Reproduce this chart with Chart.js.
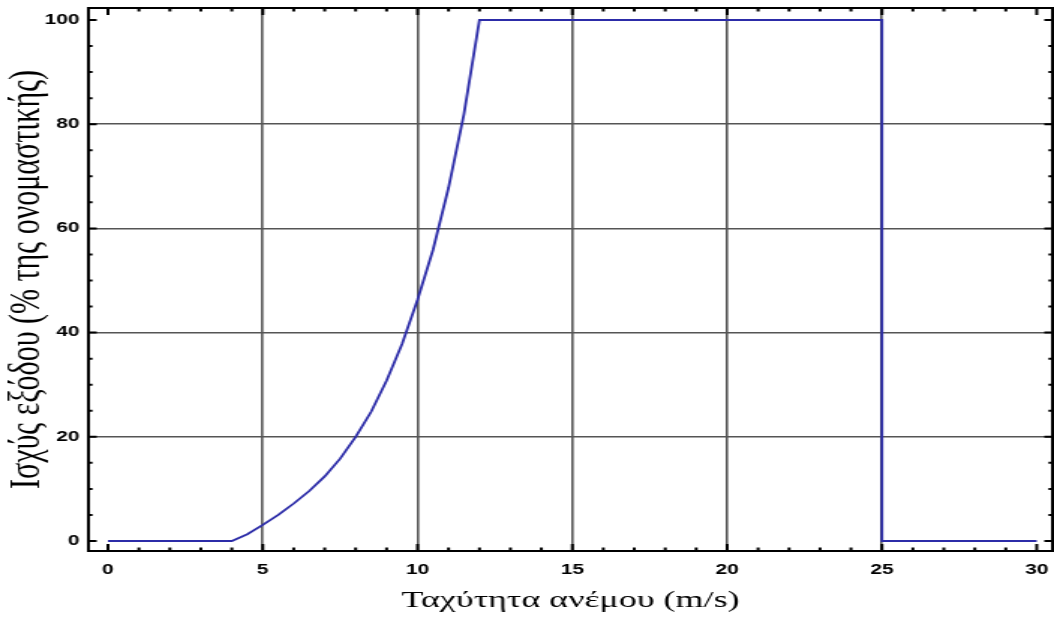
<!DOCTYPE html>
<html>
<head>
<meta charset="utf-8">
<title>Ισχύς εξόδου ανεμογεννήτριας</title>
<style>
  html, body { margin: 0; padding: 0; background: #fff; overflow: hidden; }
  /* the original picture is stretched sideways, so the chart is drawn narrow and widened */
  #chart { display: block; transform: scaleX(1.49929); transform-origin: 0 0; }
</style>
</head>
<body>
<canvas id="chart" width="703" height="626"></canvas>

<script src="https://cdn.jsdelivr.net/npm/chart.js"></script>
<script>
// wind speed (m/s) and output power (% of rated)
const windSpeed = [0, 4, 4.5, 5, 5.5, 6, 6.5, 7, 7.5, 8, 8.5, 9, 9.5, 10, 10.5, 11, 11.5, 12, 25, 25, 30];
const powerOut  = [0, 0, 1.3, 3.1, 5.0, 7.2, 9.6, 12.4, 15.8, 20.0, 24.8, 30.8, 37.8, 46.3, 55.9, 67.8, 82.0, 100, 100, 0, 0];

const xTicks = [0, 5, 10, 15, 20, 25, 30];
const yTicks = [0, 20, 40, 60, 80, 100];
const xGrid = [5, 10, 15, 20, 25];
const yGrid = [20, 40, 60, 80];

const xTitle = 'Ταχύτητα ανέμου (m/s)';
const yTitle = 'Ισχύς εξόδου (% της ονομαστικής)';

const tickFont = { family: "'Liberation Sans', Arial, sans-serif", size: 14, weight: 'bold' };
const xTitleFont = { family: "'Liberation Serif', 'DejaVu Serif', serif", size: 24 };
const yTitleFont = { family: "'Liberation Serif', 'DejaVu Serif', serif", size: 30 };

// frame with inward ticks, like the original plot
const frameTicks = {
  id: 'frameTicks',
  afterDatasetsDraw(chart) {
    const { ctx, chartArea: a, scales: { x, y } } = chart;
    ctx.save();
    ctx.strokeStyle = '#000';
    ctx.lineWidth = 2;
    ctx.beginPath();
    for (let v = 0; v <= 30; v += 1) {
      const px = x.getPixelForValue(v);
      const len = v % 5 === 0 ? 7 : 3.5;
      ctx.moveTo(px, a.bottom); ctx.lineTo(px, a.bottom - len);
      ctx.moveTo(px, a.top); ctx.lineTo(px, a.top + len);
    }
    for (let v = 0; v <= 100; v += 5) {
      const py = y.getPixelForValue(v);
      const len = v % 20 === 0 ? 5.5 : 2.7;
      ctx.moveTo(a.left, py); ctx.lineTo(a.left + len, py);
      ctx.moveTo(a.right, py); ctx.lineTo(a.right - len, py);
    }
    ctx.stroke();
    ctx.strokeRect(a.left, a.top, a.right - a.left, a.bottom - a.top);
    ctx.restore();
  }
};

new Chart(document.getElementById('chart'), {
  type: 'line',
  data: {
    datasets: [{
      data: windSpeed.map((v, i) => ({ x: v, y: powerOut[i] })),
      borderColor: '#2c2ca8',
      borderWidth: 1.8,
      pointRadius: 0,
      tension: 0,
      fill: false
    }]
  },
  options: {
    responsive: false,
    animation: false,
    events: [],
    layout: { padding: { left: 0, right: 1, top: 8, bottom: 0 } },
    plugins: { legend: { display: false }, tooltip: { enabled: false } },
    scales: {
      x: {
        type: 'linear',
        min: -0.63,
        max: 30.51,
        afterBuildTicks: s => { s.ticks = xTicks.map(v => ({ value: v })); },
        afterFit: s => { s.height = 75; s.paddingLeft = 0; s.paddingRight = 0; },
        grid: {
          drawTicks: false,
          lineWidth: 1.6,
          color: c => xGrid.includes(c.tick.value) ? '#555' : 'rgba(0,0,0,0)'
        },
        border: { display: false },
        ticks: { color: '#000', font: tickFont, padding: 11, maxRotation: 0 },
        title: { display: true, text: xTitle, color: '#000', font: xTitleFont, padding: { top: 0, bottom: 10.7 } }
      },
      y: {
        min: -1.92,
        max: 102.3,
        afterBuildTicks: s => { s.ticks = yTicks.map(v => ({ value: v })); },
        afterFit: s => { s.width = 59; s.paddingTop = 0; s.paddingBottom = 0; },
        grid: {
          drawTicks: false,
          lineWidth: 1.6,
          color: c => yGrid.includes(c.tick.value) ? '#555' : 'rgba(0,0,0,0)'
        },
        border: { display: false },
        ticks: { color: '#000', font: tickFont, padding: 6 },
        title: { display: true, text: yTitle, color: '#000', font: yTitleFont, padding: { top: 0, bottom: 0 } }
      }
    }
  },
  plugins: [frameTicks]
});
</script>
</body>
</html>
